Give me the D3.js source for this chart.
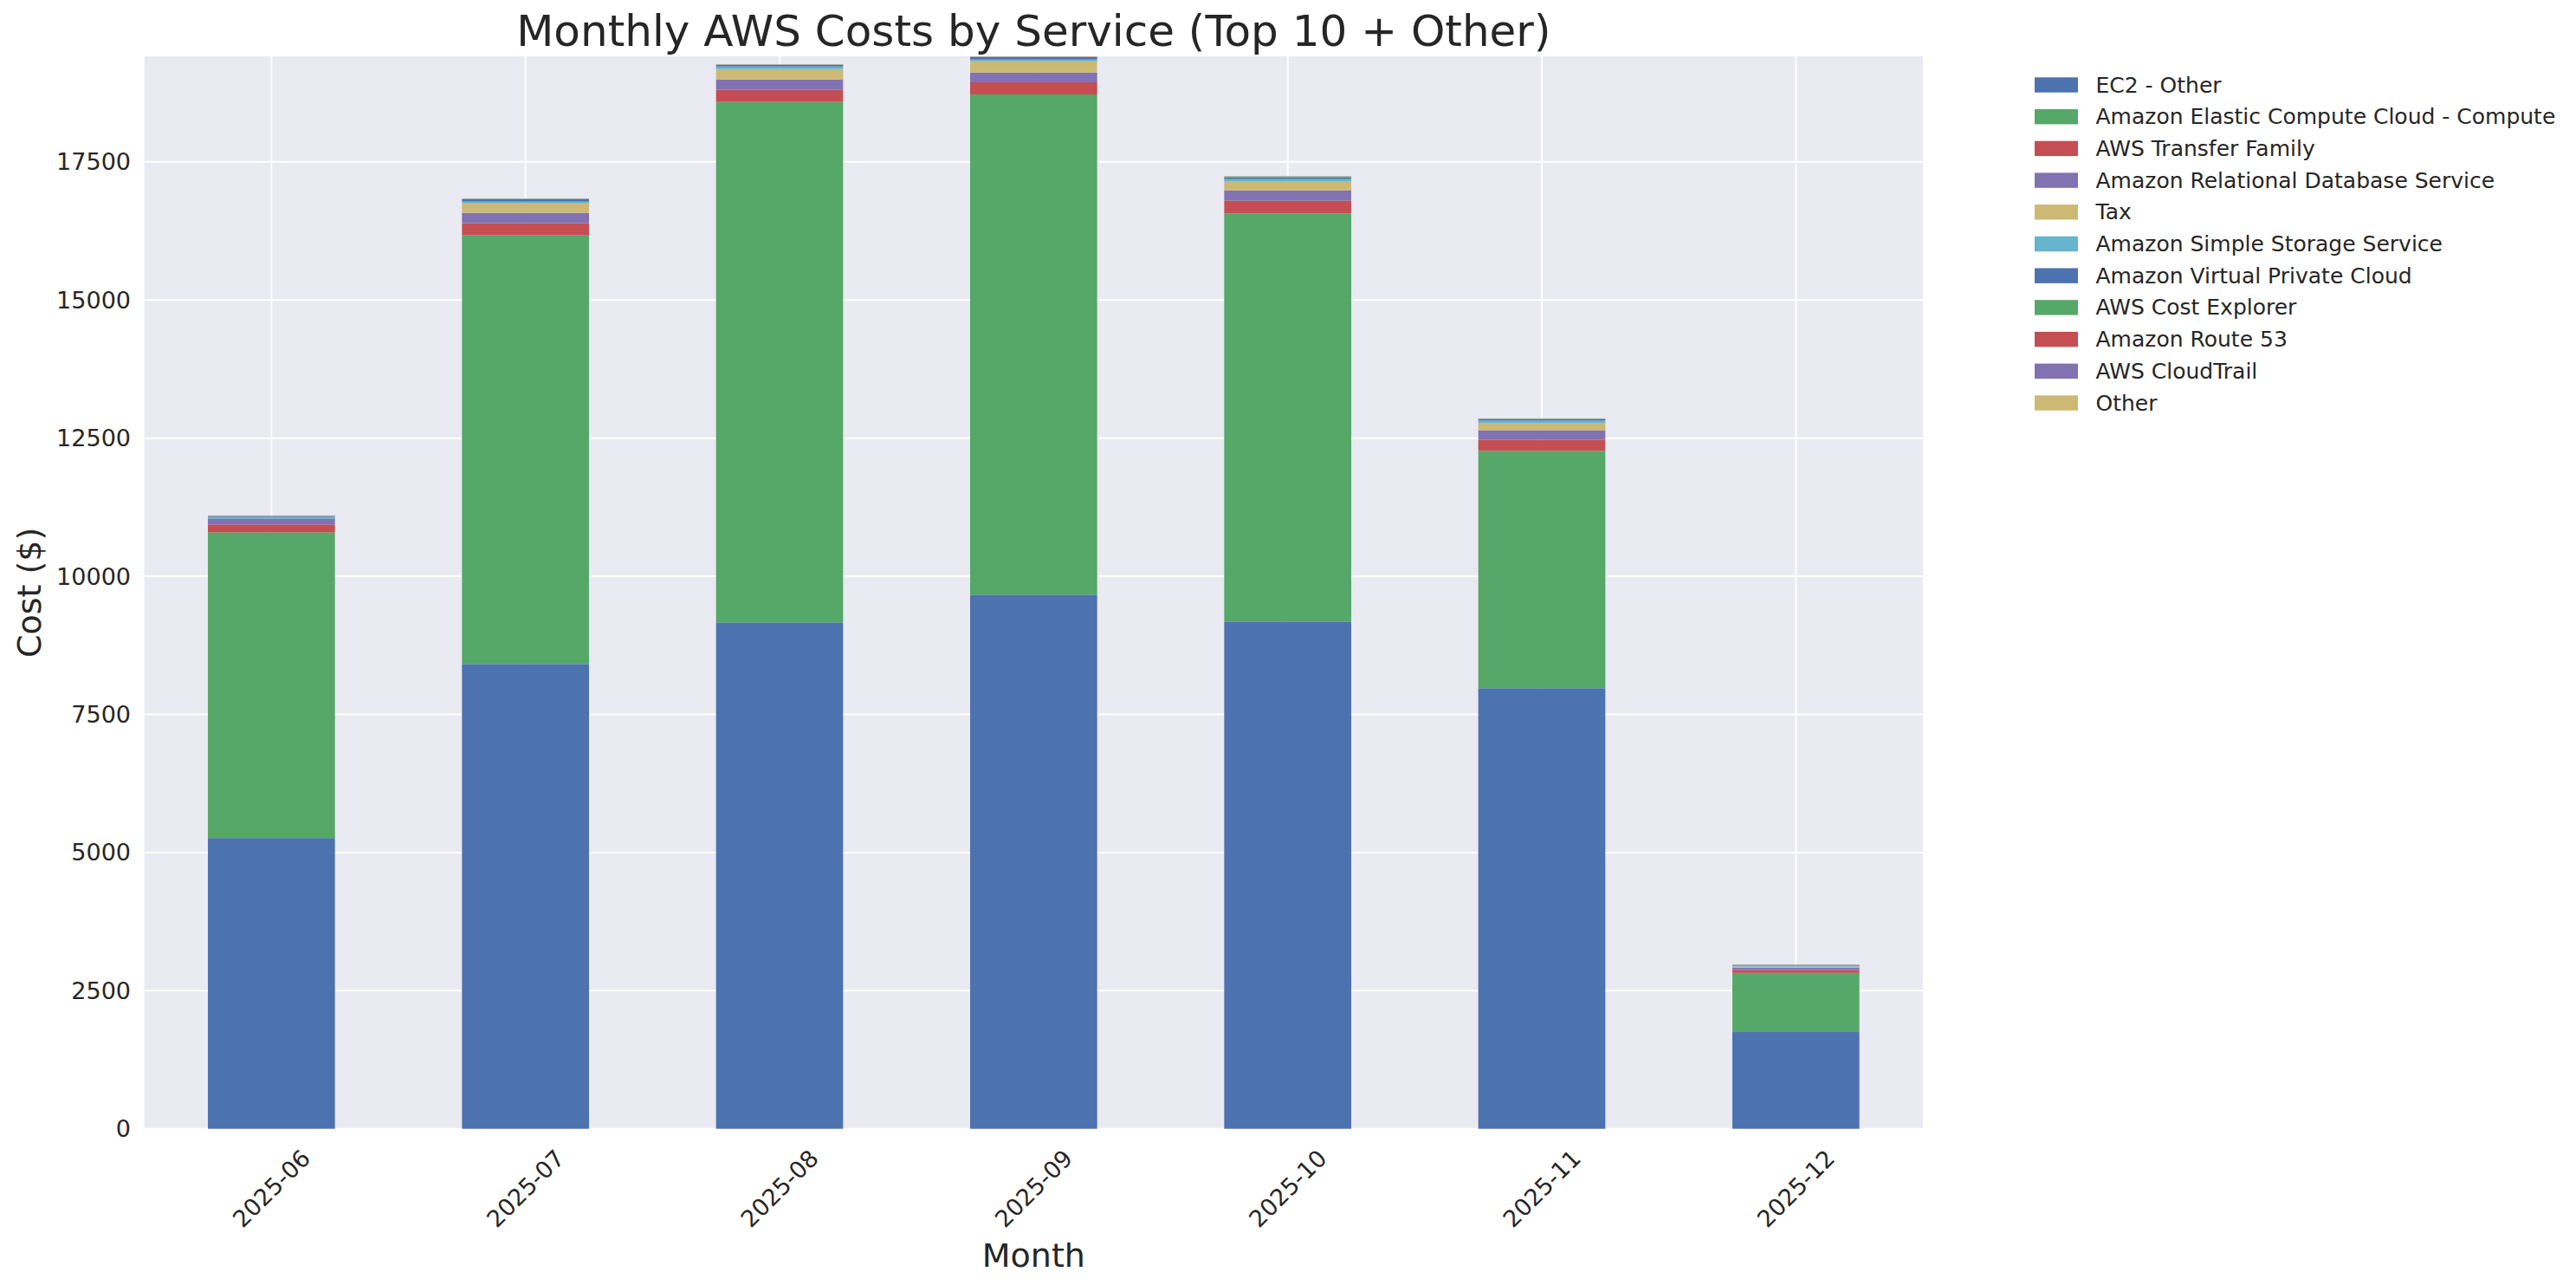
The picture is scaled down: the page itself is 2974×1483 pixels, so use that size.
<!DOCTYPE html>
<html>
<head>
<meta charset="utf-8">
<script src="https://cdn.jsdelivr.net/npm/d3@7"></script>
<style>
  html, body { margin: 0; padding: 0; background: #fff; }
  text { font-family: "DejaVu Sans", sans-serif; fill: #262626; }
</style>
</head>
<body>
<svg id="chart"></svg>
<script>
const months = ['2025-06', '2025-07', '2025-08', '2025-09', '2025-10', '2025-11', '2025-12'];

const services = [
  'EC2 - Other',
  'Amazon Elastic Compute Cloud - Compute',
  'AWS Transfer Family',
  'Amazon Relational Database Service',
  'Tax',
  'Amazon Simple Storage Service',
  'Amazon Virtual Private Cloud',
  'AWS Cost Explorer',
  'Amazon Route 53',
  'AWS CloudTrail',
  'Other',
];

// monthly cost per service ($)
const ec2Other       = [5262, 8412, 9165, 9666, 9180, 7973, 1751];
const ec2Compute     = [5533, 7759, 9420, 9055, 7387, 4295, 1070];
const transferFamily = [141, 219, 219, 220, 231, 204, 54];
const rds            = [110, 188, 188, 177, 188, 172, 40];
const tax            = [0, 173, 188, 203, 157, 126, 20];
const s3             = [31, 31, 47, 32, 47, 47, 16];
const vpc            = [16, 47, 31, 47, 31, 31, 12];
const costExplorer   = [2, 3, 3, 4, 16, 3, 6];
const route53        = [1, 2, 2, 2, 2, 2, 1];
const cloudTrail     = [1, 1, 1, 1, 1, 1, 1];
const other          = [3, 4, 4, 4, 4, 4, 2];

const yTickValues = [0, 2500, 5000, 7500, 10000, 12500, 15000, 17500];

const palette = ['#4C72B0', '#55A868', '#C44E52', '#8172B2', '#CCB974', '#64B5CD'];

const series = [ec2Other, ec2Compute, transferFamily, rds, tax, s3, vpc,
  costExplorer, route53, cloudTrail, other];

const rows = months.map((m, i) => {
  const r = { month: m };
  services.forEach((s, j) => { r[s] = series[j][i]; });
  return r;
});

const width = 2974;
const height = 1483;
const plot = { left: 166.7, right: 2220, top: 65, bottom: 1302.7 };

const svg = d3.select('#chart')
  .attr('width', width)
  .attr('height', height);

const color = d3.scaleOrdinal()
  .domain(services)
  .range(services.map((s, i) => palette[i % palette.length]));

const stacked = d3.stack().keys(services)(rows);
const maxTotal = d3.max(rows, r => d3.sum(services, s => r[s]));

const x = d3.scaleBand()
  .domain(months)
  .range([plot.left, plot.right])
  .paddingInner(0.5)
  .paddingOuter(0.25);

const y = d3.scaleLinear()
  .domain([0, maxTotal])
  .range([plot.bottom, plot.top]);

// background + grid
svg.append('rect')
  .attr('x', plot.left)
  .attr('y', plot.top)
  .attr('width', plot.right - plot.left)
  .attr('height', plot.bottom - plot.top)
  .attr('fill', '#EAEAF2');

svg.append('g')
  .selectAll('line')
  .data(yTickValues)
  .enter().append('line')
    .attr('x1', plot.left)
    .attr('x2', plot.right)
    .attr('y1', d => y(d))
    .attr('y2', d => y(d))
    .attr('stroke', '#fff')
    .attr('stroke-width', 2);

svg.append('g')
  .selectAll('line')
  .data(months)
  .enter().append('line')
    .attr('x1', d => x(d) + x.bandwidth() / 2)
    .attr('x2', d => x(d) + x.bandwidth() / 2)
    .attr('y1', plot.top)
    .attr('y2', plot.bottom)
    .attr('stroke', '#fff')
    .attr('stroke-width', 2);

// bars
svg.append('g')
  .selectAll('g')
  .data(stacked)
  .enter().append('g')
    .attr('fill', d => color(d.key))
  .selectAll('rect')
  .data(d => d)
  .enter().append('rect')
    .attr('x', d => x(d.data.month))
    .attr('width', x.bandwidth())
    .attr('y', d => y(d[1]))
    .attr('height', d => Math.max(0, y(d[0]) - y(d[1])));

// y tick labels
svg.append('g')
  .selectAll('text')
  .data(yTickValues)
  .enter().append('text')
    .attr('x', 151)
    .attr('y', d => y(d))
    .attr('text-anchor', 'end')
    .attr('dominant-baseline', 'central')
    .style('font-size', '27px')
    .text(d => d);

// x tick labels, rotated 45
const xLabels = svg.append('g')
  .selectAll('text')
  .data(months)
  .enter().append('text')
    .attr('text-anchor', 'middle')
    .attr('dominant-baseline', 'central')
    .style('font-size', '27px')
    .text(d => d);

xLabels.attr('transform', function(d) {
  const len = this.getComputedTextLength();
  const boxH = (len + 27 * 0.95) * Math.SQRT1_2;
  const cx = x(d) + x.bandwidth() / 2;
  const cy = plot.bottom + 20 + boxH / 2;
  return `translate(${cx}, ${cy}) rotate(-45)`;
});

// axis titles
svg.append('text')
  .attr('x', (plot.left + plot.right) / 2)
  .attr('y', 1462)
  .attr('text-anchor', 'middle')
  .style('font-size', '38px')
  .text('Month');

svg.append('text')
  .attr('transform', `translate(34, ${(plot.top + plot.bottom) / 2}) rotate(-90)`)
  .attr('text-anchor', 'middle')
  .attr('dominant-baseline', 'central')
  .style('font-size', '38px')
  .text('Cost ($)');

svg.append('text')
  .attr('x', (plot.left + plot.right) / 2)
  .attr('y', 53)
  .attr('text-anchor', 'middle')
  .style('font-size', '50px')
  .text('Monthly AWS Costs by Service (Top 10 + Other)');

// legend
const legend = svg.append('g')
  .selectAll('g')
  .data(services)
  .enter().append('g')
    .attr('transform', (d, i) => `translate(2349, ${89.3 + i * 36.7})`);

legend.append('rect')
  .attr('width', 50)
  .attr('height', 17.4)
  .attr('fill', d => color(d));

legend.append('text')
  .attr('x', 70.5)
  .attr('y', 8.7)
  .attr('dominant-baseline', 'central')
  .style('font-size', '25px')
  .text(d => d);
</script>
</body>
</html>
